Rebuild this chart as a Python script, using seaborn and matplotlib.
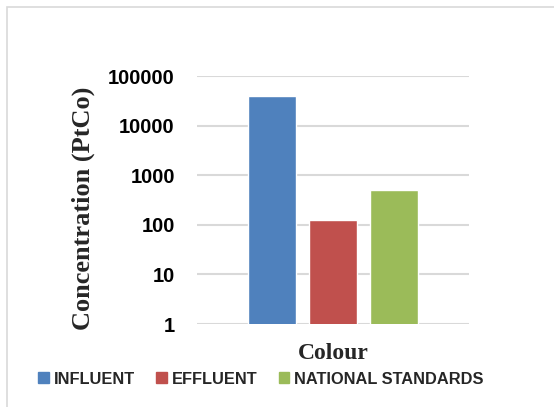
import matplotlib
matplotlib.use("Agg")
import matplotlib.pyplot as plt
from matplotlib.patches import Rectangle
import seaborn as sns
import pandas as pd

# Data
categories = ["Colour"]
series = ["INFLUENT", "EFFLUENT", "NATIONAL STANDARDS"]
values = [40000, 125, 500]
colors = ["#4F81BD", "#C0504D", "#9BBB59"]
ytick_values = [1, 10, 100, 1000, 10000, 100000]
ytick_labels = ["1", "10", "100", "1000", "10000", "100000"]

df = pd.DataFrame({
    "category": categories * len(series),
    "series": series,
    "value": values,
})

sns.set_theme(style="white")
W, H = 554, 407
fig = plt.figure(figsize=(W / 100, H / 100), dpi=100)
fig.patch.set_facecolor("white")

# light outer chart frame
fig.patches.append(Rectangle((7 / W, -0.05), 1.2, (H - 7) / H + 0.05,
                             transform=fig.transFigure, fill=False,
                             edgecolor="#d9d9d9", linewidth=1.2))

ax = fig.add_axes([197 / W, 1 - 324 / H, (469 - 197) / W, (324 - 76) / H])
sns.barplot(data=df, x="category", y="value", hue="series",
            palette=colors, width=0.67, gap=0.21, ax=ax,
            saturation=1, legend=False, log_scale=(False, True))

ax.set_yscale("log")
ax.set_ylim(1, 100000)
ax.set_xlim(-0.5, 0.5)
ax.set_yticks(ytick_values)
ax.set_yticklabels(ytick_labels, fontsize=14.5, fontweight="bold",
                   family="Liberation Sans", color="black")
ax.yaxis.set_minor_locator(matplotlib.ticker.NullLocator())
ax.tick_params(axis="y", length=0, pad=16)
ax.set_xticks([])
ax.grid(axis="y", color="#d9d9d9", linewidth=1.5)
ax.set_axisbelow(True)
for s in ax.spines.values():
    s.set_visible(False)

ax.set_ylabel("Concentration (PtCo)", fontsize=19, fontweight="bold",
              family="Liberation Serif")
ax.yaxis.set_label_coords(-0.375, 0.468)
ax.set_xlabel("Colour", fontsize=17, fontweight="bold",
              family="Liberation Serif", labelpad=14)

handles = [Rectangle((0, 0), 1, 1, color=c) for c in colors]
fig.legend(handles, series, loc="center", bbox_to_anchor=(0.471, 1 - 379 / H),
           ncol=3, frameon=False, handlelength=0.65, handleheight=0.65,
           handletextpad=0.3, columnspacing=1.3,
           prop={"family": "Liberation Sans", "weight": "bold", "size": 11.8})

fig.savefig("out.png", dpi=100)
